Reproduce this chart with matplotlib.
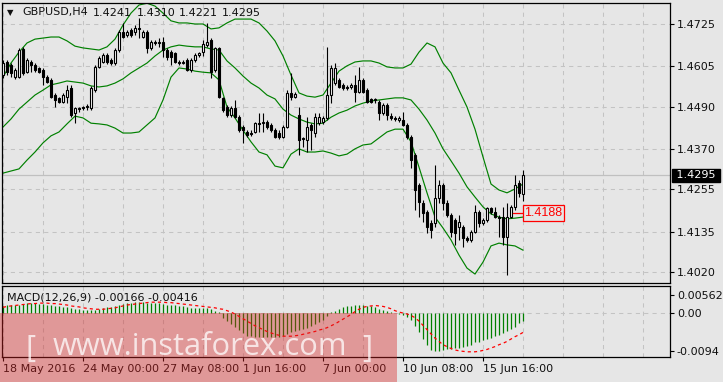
import matplotlib
matplotlib.use("Agg")
import matplotlib.pyplot as plt
import numpy as np
from matplotlib.patches import Rectangle
from matplotlib.transforms import blended_transform_factory

# ---------------- data ----------------
symbol = "GBPUSD,H4"
opens = [1.4580, 1.4617, 1.4608, 1.4574, 1.4574, 1.4654, 1.4588, 1.4617, 1.4608, 1.4600,
         1.4594, 1.4574, 1.4566, 1.4523, 1.4515, 1.4503, 1.4517, 1.4543, 1.4472, 1.4486,
         1.4489, 1.4489, 1.4486, 1.4537, 1.4603, 1.4617, 1.4637, 1.4623, 1.4614, 1.4651,
         1.4702, 1.4694, 1.4708, 1.4702, 1.4713, 1.4688, 1.4702, 1.4657, 1.4674, 1.4671,
         1.4674, 1.4651, 1.4645, 1.4643, 1.4617, 1.4614, 1.4623, 1.4594, 1.4623, 1.4637,
         1.4645, 1.4665, 1.4680, 1.4594, 1.4657, 1.4515, 1.4489, 1.4466, 1.4486, 1.4460,
         1.4432, 1.4418, 1.4415, 1.4418, 1.4443, 1.4443, 1.4446, 1.4438, 1.4423, 1.4415,
         1.4404, 1.4432, 1.4529, 1.4517, 1.4466, 1.4401, 1.4395, 1.4438, 1.4415, 1.4443,
         1.4446, 1.4458, 1.4523, 1.4557, 1.4566, 1.4552, 1.4546, 1.4546, 1.4552, 1.4532,
         1.4566, 1.4537, 1.4512, 1.4509, 1.4503, 1.4472, 1.4495, 1.4463, 1.4458, 1.4452,
         1.4452, 1.4438, 1.4404, 1.4353, 1.4267, 1.4216, 1.4190, 1.4159, 1.4159, 1.4230,
         1.4267, 1.4216, 1.4182, 1.4168, 1.4148, 1.4148, 1.4117, 1.4111, 1.4134, 1.4190,
         1.4159, 1.4168, 1.4202, 1.4190, 1.4176, 1.4176, 1.4119, 1.4176, 1.4205, 1.4273,
         1.4241]
highs = [1.4623, 1.4623, 1.4614, 1.4600, 1.4657, 1.4660, 1.4628, 1.4623, 1.4614, 1.4603,
         1.4600, 1.4580, 1.4571, 1.4529, 1.4517, 1.4529, 1.4552, 1.4552, 1.4489, 1.4489,
         1.4492, 1.4497, 1.4549, 1.4608, 1.4634, 1.4643, 1.4643, 1.4628, 1.4657, 1.4708,
         1.4728, 1.4708, 1.4713, 1.4722, 1.4742, 1.4708, 1.4708, 1.4680, 1.4680, 1.4685,
         1.4688, 1.4657, 1.4651, 1.4645, 1.4623, 1.4623, 1.4628, 1.4628, 1.4643, 1.4645,
         1.4680, 1.4728, 1.4685, 1.4660, 1.4660, 1.4517, 1.4495, 1.4492, 1.4509, 1.4466,
         1.4438, 1.4423, 1.4423, 1.4446, 1.4472, 1.4472, 1.4452, 1.4443, 1.4429, 1.4423,
         1.4438, 1.4537, 1.4586, 1.4532, 1.4489, 1.4404, 1.4460, 1.4443, 1.4472, 1.4472,
         1.4463, 1.4660, 1.4608, 1.4614, 1.4571, 1.4557, 1.4552, 1.4557, 1.4580, 1.4603,
         1.4571, 1.4543, 1.4515, 1.4515, 1.4509, 1.4500, 1.4500, 1.4472, 1.4463, 1.4463,
         1.4475, 1.4443, 1.4409, 1.4358, 1.4273, 1.4224, 1.4196, 1.4168, 1.4324, 1.4281,
         1.4273, 1.4224, 1.4188, 1.4173, 1.4182, 1.4154, 1.4122, 1.4139, 1.4210, 1.4196,
         1.4173, 1.4205, 1.4205, 1.4205, 1.4182, 1.4205, 1.4216, 1.4210, 1.4296, 1.4281,
         1.4310]
lows = [1.4571, 1.4580, 1.4574, 1.4568, 1.4571, 1.4580, 1.4586, 1.4588, 1.4588, 1.4586,
        1.4552, 1.4557, 1.4515, 1.4489, 1.4500, 1.4500, 1.4500, 1.4460, 1.4443, 1.4475,
        1.4480, 1.4480, 1.4480, 1.4532, 1.4600, 1.4614, 1.4611, 1.4608, 1.4608, 1.4645,
        1.4685, 1.4688, 1.4688, 1.4694, 1.4685, 1.4685, 1.4643, 1.4651, 1.4665, 1.4660,
        1.4631, 1.4623, 1.4608, 1.4614, 1.4608, 1.4611, 1.4591, 1.4588, 1.4617, 1.4631,
        1.4634, 1.4660, 1.4571, 1.4588, 1.4515, 1.4475, 1.4460, 1.4460, 1.4458, 1.4418,
        1.4387, 1.4404, 1.4406, 1.4415, 1.4418, 1.4418, 1.4426, 1.4418, 1.4401, 1.4398,
        1.4401, 1.4429, 1.4509, 1.4515, 1.4353, 1.4375, 1.4361, 1.4367, 1.4404, 1.4438,
        1.4441, 1.4452, 1.4500, 1.4552, 1.4543, 1.4537, 1.4537, 1.4540, 1.4503, 1.4529,
        1.4529, 1.4500, 1.4500, 1.4500, 1.4452, 1.4466, 1.4452, 1.4452, 1.4449, 1.4446,
        1.4435, 1.4398, 1.4316, 1.4196, 1.4176, 1.4162, 1.4131, 1.4117, 1.4148, 1.4216,
        1.4196, 1.4176, 1.4119, 1.4097, 1.4111, 1.4091, 1.4105, 1.4105, 1.4131, 1.4148,
        1.4154, 1.4162, 1.4185, 1.4173, 1.4119, 1.4097, 1.4011, 1.4173, 1.4196, 1.4233,
        1.4221]
closes = [1.4614, 1.4588, 1.4586, 1.4594, 1.4651, 1.4586, 1.4623, 1.4608, 1.4594, 1.4588,
          1.4574, 1.4560, 1.4517, 1.4509, 1.4503, 1.4523, 1.4537, 1.4466, 1.4486, 1.4483,
          1.4486, 1.4492, 1.4543, 1.4603, 1.4628, 1.4637, 1.4617, 1.4614, 1.4651, 1.4702,
          1.4688, 1.4702, 1.4694, 1.4713, 1.4710, 1.4702, 1.4657, 1.4674, 1.4671, 1.4674,
          1.4651, 1.4631, 1.4631, 1.4617, 1.4614, 1.4617, 1.4594, 1.4623, 1.4637, 1.4643,
          1.4668, 1.4674, 1.4588, 1.4657, 1.4517, 1.4480, 1.4466, 1.4486, 1.4460, 1.4423,
          1.4423, 1.4409, 1.4412, 1.4443, 1.4441, 1.4446, 1.4432, 1.4423, 1.4404, 1.4404,
          1.4432, 1.4529, 1.4517, 1.4526, 1.4395, 1.4398, 1.4432, 1.4423, 1.4460, 1.4460,
          1.4458, 1.4523, 1.4600, 1.4600, 1.4546, 1.4543, 1.4543, 1.4552, 1.4532, 1.4566,
          1.4532, 1.4503, 1.4503, 1.4512, 1.4472, 1.4495, 1.4466, 1.4458, 1.4455, 1.4458,
          1.4438, 1.4404, 1.4338, 1.4253, 1.4219, 1.4188, 1.4148, 1.4139, 1.4230, 1.4267,
          1.4216, 1.4182, 1.4134, 1.4131, 1.4162, 1.4117, 1.4111, 1.4134, 1.4190, 1.4159,
          1.4168, 1.4202, 1.4190, 1.4176, 1.4173, 1.4119, 1.4176, 1.4205, 1.4267, 1.4244,
          1.4295]

# Bollinger bands (20, 2) read every second bar
band_idx = list(range(0, 131, 2))
bb_upper = [1.4574, 1.4614, 1.4645, 1.4671, 1.4682, 1.4685, 1.4688, 1.4688, 1.4677, 1.4662,
            1.4657, 1.4654, 1.4651, 1.4660, 1.4682, 1.4722, 1.4756, 1.4779, 1.4784, 1.4776,
            1.4756, 1.4734, 1.4728, 1.4728, 1.4725, 1.4725, 1.4711, 1.4714, 1.4728, 1.4739,
            1.4739, 1.4739, 1.4728, 1.4705, 1.4677, 1.4634, 1.4580, 1.4529, 1.4520, 1.4517,
            1.4523, 1.4557, 1.4591, 1.4606, 1.4617, 1.4620, 1.4620, 1.4614, 1.4603, 1.4600,
            1.4600, 1.4611, 1.4645, 1.4671, 1.4660, 1.4614, 1.4586, 1.4537, 1.4489, 1.4426,
            1.4347, 1.4270, 1.4253, 1.4245, 1.4256, 1.4270]
bb_middle = [1.4432, 1.4455, 1.4483, 1.4503, 1.4523, 1.4537, 1.4552, 1.4557, 1.4563, 1.4560,
             1.4557, 1.4549, 1.4546, 1.4549, 1.4557, 1.4569, 1.4586, 1.4600, 1.4614, 1.4634,
             1.4651, 1.4660, 1.4665, 1.4662, 1.4660, 1.4660, 1.4654, 1.4651, 1.4620, 1.4600,
             1.4577, 1.4557, 1.4543, 1.4523, 1.4512, 1.4483, 1.4466, 1.4455, 1.4446, 1.4441,
             1.4443, 1.4460, 1.4472, 1.4480, 1.4492, 1.4500, 1.4506, 1.4509, 1.4512, 1.4515,
             1.4515, 1.4509, 1.4483, 1.4452, 1.4415, 1.4370, 1.4336, 1.4301, 1.4262, 1.4233,
             1.4205, 1.4185, 1.4176, 1.4171, 1.4173, 1.4176]
bb_lower = [1.4301, 1.4307, 1.4313, 1.4338, 1.4361, 1.4387, 1.4407, 1.4418, 1.4441, 1.4463,
            1.4458, 1.4443, 1.4441, 1.4438, 1.4429, 1.4415, 1.4415, 1.4418, 1.4438, 1.4458,
            1.4509, 1.4574, 1.4600, 1.4597, 1.4591, 1.4588, 1.4586, 1.4566, 1.4489, 1.4458,
            1.4423, 1.4390, 1.4361, 1.4353, 1.4321, 1.4316, 1.4355, 1.4370, 1.4361, 1.4361,
            1.4364, 1.4358, 1.4350, 1.4355, 1.4370, 1.4381, 1.4384, 1.4401, 1.4418, 1.4426,
            1.4426, 1.4390, 1.4318, 1.4245, 1.4176, 1.4145, 1.4111, 1.4068, 1.4031, 1.4014,
            1.4048, 1.4094, 1.4102, 1.4097, 1.4094, 1.4082]

macd_main = [0.0014, 0.0015, 0.0016, 0.0016,
             0.0017, 0.0019, 0.0020, 0.0020, 0.0020, 0.0019, 0.0018, 0.0017, 0.0016,
             0.0014, 0.0013, 0.0012, 0.0011,
             0.0009, 0.0008, 0.0007, 0.0006, 0.0005, 0.0005, 0.0006, 0.0007,
             0.0010, 0.0011, 0.0012, 0.0014,
             0.0017, 0.0019, 0.0020, 0.0021, 0.0022, 0.0022, 0.0022, 0.0021, 0.0020,
             0.0020, 0.0020, 0.0019, 0.0017, 0.0016, 0.0015, 0.0014, 0.0013,
             0.0011, 0.0010, 0.0010, 0.0009,
             0.0009, 0.0010, 0.0007, 0.0003, 0.0001,
             -0.0011, -0.0018, -0.0025, -0.0030, -0.0037, -0.0044, -0.0049,
             -0.0050, -0.0051, -0.0051, -0.0052, -0.0052, -0.0052, -0.0051, -0.0051, -0.0050,
             -0.0046, -0.0042, -0.0039, -0.0037, -0.0034, -0.0032, -0.0028, -0.0025, -0.0021,
             -0.0016, -0.0007,
             0.0001, 0.0004, 0.0007, 0.0011, 0.0013, 0.0014, 0.0015, 0.0016, 0.0017, 0.0014,
             0.0013, 0.0011, 0.0008, 0.0006,
             0.0004, 0.0002, 0.0000, -0.0004, -0.0006, -0.0009,
             -0.0016, -0.0028, -0.0042, -0.0056, -0.0069, -0.0079, -0.0082, -0.0082, -0.0080,
             -0.0078, -0.0078, -0.0076, -0.0074, -0.0073, -0.0071, -0.0068, -0.0063, -0.0062,
             -0.0058, -0.0055, -0.0053, -0.0049, -0.0048, -0.0044, -0.0039, -0.0035, -0.0030,
             -0.0023, -0.0017]
macd_signal = [0.0011, 0.0013, 0.0014, 0.0015,
               0.0016, 0.0017, 0.0018, 0.0019, 0.0019, 0.0020, 0.0020,
               0.0020, 0.0019, 0.0019, 0.0018, 0.0017,
               0.0016, 0.0014, 0.0013, 0.0012,
               0.0010, 0.0009, 0.0008, 0.0007, 0.0007,
               0.0007, 0.0008, 0.0009, 0.0010,
               0.0012, 0.0014, 0.0016, 0.0017, 0.0018,
               0.0019, 0.0020, 0.0021, 0.0022, 0.0022, 0.0022, 0.0022,
               0.0021, 0.0021, 0.0020, 0.0019, 0.0018, 0.0017,
               0.0016, 0.0015, 0.0014, 0.0013,
               0.0012, 0.0011, 0.0010, 0.0008, 0.0007,
               0.0004, 0.0001, -0.0003, -0.0008,
               -0.0013, -0.0018, -0.0023, -0.0028, -0.0032,
               -0.0036, -0.0040, -0.0043, -0.0046, -0.0048, -0.0050, -0.0050, -0.0050,
               -0.0049, -0.0048, -0.0046, -0.0044, -0.0042,
               -0.0040, -0.0037, -0.0035, -0.0032,
               -0.0028, -0.0024, -0.0019, -0.0014, -0.0009,
               -0.0004, 0.0002, 0.0007, 0.0011,
               0.0013, 0.0014, 0.0015, 0.0014, 0.0013,
               0.0011, 0.0008, 0.0004, 0.0001, -0.0001, -0.0003,
               -0.0006, -0.0011, -0.0018, -0.0027, -0.0036, -0.0045, -0.0054, -0.0061, -0.0068,
               -0.0072, -0.0076, -0.0079, -0.0081, -0.0082, -0.0083, -0.0083, -0.0083, -0.0082,
               -0.0080, -0.0078, -0.0075, -0.0072, -0.0068, -0.0065, -0.0061, -0.0056, -0.0051,
               -0.0047, -0.0042]

price_ticks = [1.4020, 1.4135, 1.4255, 1.4370, 1.4490, 1.4605, 1.4725]
date_labels = ["18 May 2016", "24 May 00:00", "27 May 08:00", "1 Jun 16:00",
               "7 Jun 00:00", "10 Jun 08:00", "15 Jun 16:00"]
macd_max, macd_min = 0.00562, -0.0094
macd_tick_labels = ["0.00562", "0.00", "-0.0094"]
macd_title = "MACD(12,26,9) -0.00166 -0.00416"
level_price = 1.4188
watermark = "www.instaforex.com"

# ---------------- style ----------------
BG = "#e6e6e6"
GRID = "#c3c3c3"
GREEN = "#008000"
FG = "#101010"
W, H = 723, 382
plt.rcParams["font.family"] = ["DejaVu Sans"]

fig = plt.figure(figsize=(W / 100, H / 100), dpi=100, facecolor=BG)


def px_rect(l, t, r, b):
    return [l / W, 1 - b / H, (r - l) / W, (b - t) / H]


ax = fig.add_axes(px_rect(2, 3, 670, 283))
axm = fig.add_axes(px_rect(2, 286, 670, 357))
n = len(closes)
x = np.arange(n)
label_ticks = np.arange(0, 20 * len(date_labels), 20)
for a in (ax, axm):
    a.set_facecolor(BG)
    a.set_xlim(-0.25, 166.75)
    for s in a.spines.values():
        s.set_color("black")
        s.set_linewidth(0.9)
    a.set_xticks(label_ticks)
    a.set_xticks([t for t in range(0, 167, 10) if t not in label_ticks], minor=True)
    a.grid(True, axis="x", which="both", color=GRID, linestyle=(0, (4, 4)), linewidth=0.75)
    a.set_axisbelow(True)
    a.tick_params(axis="x", which="minor", length=0)

# ---- main price panel ----
ax.set_ylim(1.39886, 1.47847)
ax.yaxis.tick_right()
ax.set_yticks(price_ticks)
ax.set_yticklabels([f"{p:.4f}" for p in price_ticks])
ax.tick_params(axis="y", direction="out", length=3, width=0.8, pad=2,
               labelsize=8, labelcolor=FG, color="black")
ax.tick_params(axis="x", which="both", length=0, labelbottom=False)
ax.grid(True, axis="y", color=GRID, linestyle=(0, (4, 4)), linewidth=0.75)

# current price line
ax.axhline(closes[-1], color="#c0c0c0", linewidth=0.9, zorder=1)

# bollinger bands
for band in (bb_upper, bb_middle, bb_lower):
    ax.plot(band_idx, band, color=GREEN, linewidth=0.85, zorder=2)

# candles
o = np.array(opens); h = np.array(highs); l = np.array(lows); c = np.array(closes)
ax.vlines(x, l, h, color="black", linewidth=0.8, zorder=3)
body_bot = np.minimum(o, c)
body_h = np.maximum(np.abs(c - o), 0.00004)
colors = ["white" if cc >= oo else "black" for oo, cc in zip(o, c)]
ax.bar(x, body_h, bottom=body_bot, width=0.6, color=colors, edgecolor="black",
       linewidth=0.8, zorder=4)

# header
fig.text(7 / W, 1 - 12.5 / H, "\u25bc", fontsize=6, color=FG, va="center", ha="left")
hdr = [(22, symbol), (93, f"{opens[-1]:.4f}"), (137, f"{highs[-1]:.4f}"),
       (179, f"{lows[-1]:.4f}"), (222, f"{closes[-1]:.4f}")]
for xp, s in hdr:
    fig.text(xp / W, 1 - 12.5 / H, s, fontsize=8, color=FG, va="center", ha="left")

# current price label (right axis)
bt = blended_transform_factory(ax.transAxes, ax.transData)
ax.text(1.0 + 3 / 668, closes[-1], f" {closes[-1]:.4f} ", transform=bt, fontsize=8,
        color="white", ha="left", va="center", clip_on=False, zorder=10,
        bbox=dict(boxstyle="square,pad=0.12", fc="black", ec="black"))

# level label 1.4188
ax.plot([127.5, 129.8], [level_price, level_price], color="red", linewidth=0.9, zorder=6)
ax.text(130.35, level_price, f"{level_price:.4f}", color="red", fontsize=9,
        family="Liberation Sans", ha="left", va="center", zorder=7,
        bbox=dict(boxstyle="square,pad=0.15", fc=BG, ec="red", lw=0.9))

# ---- MACD panel ----
axm.set_ylim(macd_min, macd_max)
scale = (macd_max - macd_min) / 71.0
axm.yaxis.tick_right()
axm.set_yticks([macd_max - 9 * scale, 0.0, macd_min + 6 * scale])
axm.set_yticklabels(macd_tick_labels)
axm.tick_params(axis="y", direction="out", length=3, width=0.8, pad=2,
                labelsize=8, labelcolor=FG, color="black")
axm.axhline(0, color=GRID, linestyle=(0, (4, 4)), linewidth=0.75, zorder=0)
axm.vlines(x, 0, macd_main, color=GREEN, linewidth=0.9, zorder=2)
axm.plot(x, macd_signal, color="red", linewidth=0.9, linestyle=(0, (2.5, 2.5)), zorder=3)
axm.set_xticklabels(date_labels)
axm.tick_params(axis="x", which="major", direction="out", length=3, width=0.8, pad=2,
                labelsize=8, labelcolor=FG, color="black")
for lbl in axm.get_xticklabels():
    lbl.set_horizontalalignment("left")
fig.text(7 / W, 1 - 298 / H, macd_title, fontsize=8, color=FG, va="center", ha="left",
         zorder=6)

# ---- watermark ----
fig.add_artist(Rectangle((0, 0), 397 / W, 69 / H, transform=fig.transFigure,
                         facecolor="#d72323", alpha=0.4, edgecolor="none", zorder=5))
wm = fig.text(53 / W, 1 - 355 / H, watermark, fontsize=20, color="white", alpha=0.75,
              va="baseline", ha="left", zorder=7, family="Open Sans")
fig.canvas.draw()
w_now = wm.get_window_extent().width
fs = 20 * 294 / w_now
wm.set_fontsize(fs)
fig.text(25 / W, 1 - 357 / H, "[", fontsize=fs, color="white", alpha=0.75,
         va="baseline", ha="left", zorder=7, family="Open Sans")
fig.text(362 / W, 1 - 357 / H, "]", fontsize=fs, color="white", alpha=0.75,
         va="baseline", ha="left", zorder=7, family="Open Sans")

fig.savefig("out.png", dpi=100, facecolor=BG)
